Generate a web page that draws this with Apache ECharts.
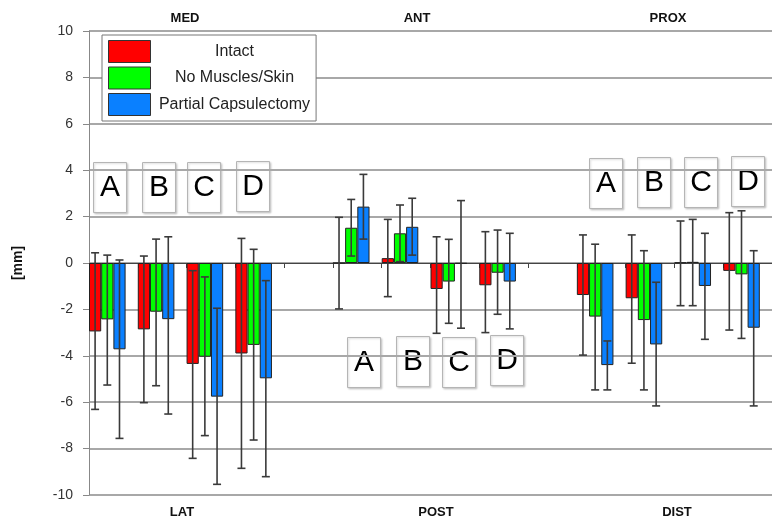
<!DOCTYPE html>
<html>
<head>
<meta charset="utf-8">
<title>Displacement by direction</title>
<script src="https://cdn.jsdelivr.net/npm/echarts@6/dist/echarts.min.js"></script>
<style>
  html, body { margin: 0; padding: 0; background: #fff; }
  #chart { width: 772px; height: 525px; }
</style>
</head>
<body>
<div id="chart"></div>
<script>
// Conditions A-D for each of the three direction pairs; empty slots separate the pairs.
const categories = ['A', 'B', 'C', 'D', '', 'A', 'B', 'C', 'D', '', 'A', 'B', 'C', 'D'];
const seriesNames = ['Intact', 'No Muscles/Skin', 'Partial Capsulectomy'];
const yTicks = [-10, -8, -6, -4, -2, 0, 2, 4, 6, 8, 10];

// Mean displacement [mm]
const intact    = [-2.95, -2.86, -4.35, -3.90, null, 0.00, 0.21, -1.12, -0.96, null, -1.38, -1.52, 0.02, -0.34];
const noMuscles = [-2.43, -2.10, -4.04, -3.53, null, 1.52, 1.28, -0.80, -0.42, null, -2.31, -2.46, 0.05, -0.49];
const partialCap= [-3.72, -2.42, -5.76, -4.97, null, 2.43, 1.56, -0.03, -0.80, null, -4.40, -3.51, -0.99, -2.79];

// Error bar ends [low, high] in mm
const intactErr = [[-6.31, 0.44], [-6.02, 0.30], [-8.42, -0.33], [-8.85, 1.06], null,
                   [-1.98, 1.97], [-1.45, 1.88], [-3.03, 1.13], [-3.00, 1.35], null,
                   [-3.97, 1.21], [-4.32, 1.21], [-1.84, 1.81], [-2.89, 2.17]];
const noMusclesErr = [[-5.26, 0.34], [-5.29, 1.03], [-7.44, -0.60], [-7.63, 0.59], null,
                      [0.30, 2.74], [0.06, 2.50], [-2.60, 1.02], [-2.21, 1.42], null,
                      [-5.47, 0.81], [-5.47, 0.53], [-1.84, 1.88], [-3.25, 2.25]];
const partialCapErr = [[-7.56, 0.13], [-6.51, 1.13], [-9.54, -1.95], [-9.21, -0.76], null,
                       [1.03, 3.82], [0.34, 2.79], [-2.81, 2.69], [-2.84, 1.28], null,
                       [-5.47, -3.36], [-6.16, -0.83], [-3.29, 1.28], [-6.16, 0.53]];

const directionTop = ['MED', 'ANT', 'PROX'];
const directionBottom = ['LAT', 'POST', 'DIST'];
const boxLetters = ['A', 'B', 'C', 'D'];

const colors = ['#ff0000', '#00ff00', '#0a80ff'];
const FONT = "'Liberation Sans', Arial, sans-serif";

const chart = echarts.init(document.getElementById('chart'), null, { renderer: 'canvas' });

// Error bars drawn in the slot of bar series `slot` (4 slots per category)
function errorRenderer(slot) {
  return function (params, api) {
    const cat = api.value(0);
    const lo = api.coord([cat, api.value(1)]);
    const hi = api.coord([cat, api.value(2)]);
    const band = api.size([1, 0])[0];
    const x = lo[0] - band / 2 + (band / 4) * (slot + 0.5);
    const cap = 4;
    const style = { stroke: '#3a3a3a', lineWidth: 1.6 };
    return {
      type: 'group',
      children: [
        { type: 'line', shape: { x1: x, y1: hi[1], x2: x, y2: lo[1] }, style: style },
        { type: 'line', shape: { x1: x - cap, y1: hi[1], x2: x + cap, y2: hi[1] }, style: style },
        { type: 'line', shape: { x1: x - cap, y1: lo[1], x2: x + cap, y2: lo[1] }, style: style }
      ]
    };
  };
}

function errData(arr) {
  const out = [];
  arr.forEach(function (e, i) { if (e) out.push([i, e[0], e[1]]); });
  return out;
}

const means = [intact, noMuscles, partialCap];
const errs = [intactErr, noMusclesErr, partialCapErr];

const series = [];
means.forEach(function (vals, k) {
  series.push({
    name: seriesNames[k],
    type: 'bar',
    data: vals,
    barGap: '0%',
    barCategoryGap: '0%',
    itemStyle: { color: colors[k], borderColor: '#222', borderWidth: 1 },
    emphasis: { disabled: true },
    z: 2
  });
});
// fourth, empty slot so each cluster sits at the left of its category
series.push({ name: 'slot', type: 'bar', data: categories.map(function () { return null; }), barGap: '0%', barCategoryGap: '0%' });
errs.forEach(function (arr, k) {
  series.push({
    name: seriesNames[k] + ' SD',
    type: 'custom',
    renderItem: errorRenderer(k),
    encode: { x: 0, y: [1, 2] },
    data: errData(arr),
    z: 5,
    silent: true
  });
});

// Annotation boxes with the condition letters, per direction pair
const boxRows = [
  [[93, 162], [142, 162], [187, 162], [236, 161]],
  [[347, 337], [396, 336], [442, 337], [490, 335]],
  [[589, 158], [637, 157], [684, 157], [731, 156]]
];
const graphics = [];
boxRows.forEach(function (row) {
  row.forEach(function (p, i) {
    graphics.push({
      type: 'group', left: p[0], top: p[1], z: 10,
      children: [
        { type: 'rect', shape: { x: 0, y: 0, width: 33, height: 50 },
          style: { fill: '#fff', stroke: '#b5b5b5', lineWidth: 1,
                   shadowBlur: 2, shadowColor: 'rgba(0,0,0,0.18)', shadowOffsetX: 1, shadowOffsetY: 1 } },
        { type: 'text', x: 16.5, y: 25,
          style: { text: boxLetters[i], fill: '#000', font: '30px ' + FONT, align: 'center', verticalAlign: 'middle' } }
      ]
    });
  });
});
const topX = [185, 417, 668];
const bottomX = [182, 436, 677];
directionTop.forEach(function (t, i) {
  graphics.push({ type: 'text', x: topX[i], y: 18, z: 10,
    style: { text: t, fill: '#111', font: 'bold 13px ' + FONT, align: 'center', verticalAlign: 'middle' } });
});
directionBottom.forEach(function (t, i) {
  graphics.push({ type: 'text', x: bottomX[i], y: 512, z: 10,
    style: { text: t, fill: '#111', font: 'bold 13px ' + FONT, align: 'center', verticalAlign: 'middle' } });
});

chart.setOption({
  animation: false,
  backgroundColor: '#fff',
  grid: { left: 89, right: -10, top: 31, bottom: 30, containLabel: false },
  legend: {
    data: seriesNames,
    orient: 'vertical',
    left: 102,
    top: 35,
    itemWidth: 42,
    itemHeight: 22,
    itemGap: 3.5,
    padding: [5, 6, 5, 6],
    backgroundColor: '#fff',
    borderColor: '#777',
    borderWidth: 1,
    icon: 'rect',
    selectedMode: false,
    itemStyle: { borderColor: '#333', borderWidth: 1 },
    formatter: function (name) { return '{t|' + name + '}'; },
    textStyle: {
      rich: { t: { width: 158, align: 'center', fontSize: 16, fontFamily: FONT, color: '#222' } }
    },
    z: 10
  },
  xAxis: {
    type: 'category',
    data: categories,
    axisLine: { onZero: true, lineStyle: { color: '#444', width: 1 } },
    axisTick: { show: true, length: 5, lineStyle: { color: '#444' } },
    axisLabel: { show: false },
    splitLine: { show: false }
  },
  yAxis: {
    type: 'value',
    min: yTicks[0],
    max: yTicks[yTicks.length - 1],
    interval: 2,
    name: '[mm]',
    nameLocation: 'middle',
    nameRotate: 90,
    nameGap: 64,
    nameTextStyle: { fontFamily: FONT, fontSize: 14, fontWeight: 'bold', color: '#111' },
    axisLine: { show: true, lineStyle: { color: '#888', width: 1 } },
    axisTick: { show: true, length: 6, lineStyle: { color: '#888' } },
    axisLabel: { fontFamily: FONT, fontSize: 14, color: '#333', margin: 16 },
    splitLine: { show: true, lineStyle: { color: '#a8a8a8', width: 2 } }
  },
  graphic: graphics,
  series: series
});
</script>
</body>
</html>
